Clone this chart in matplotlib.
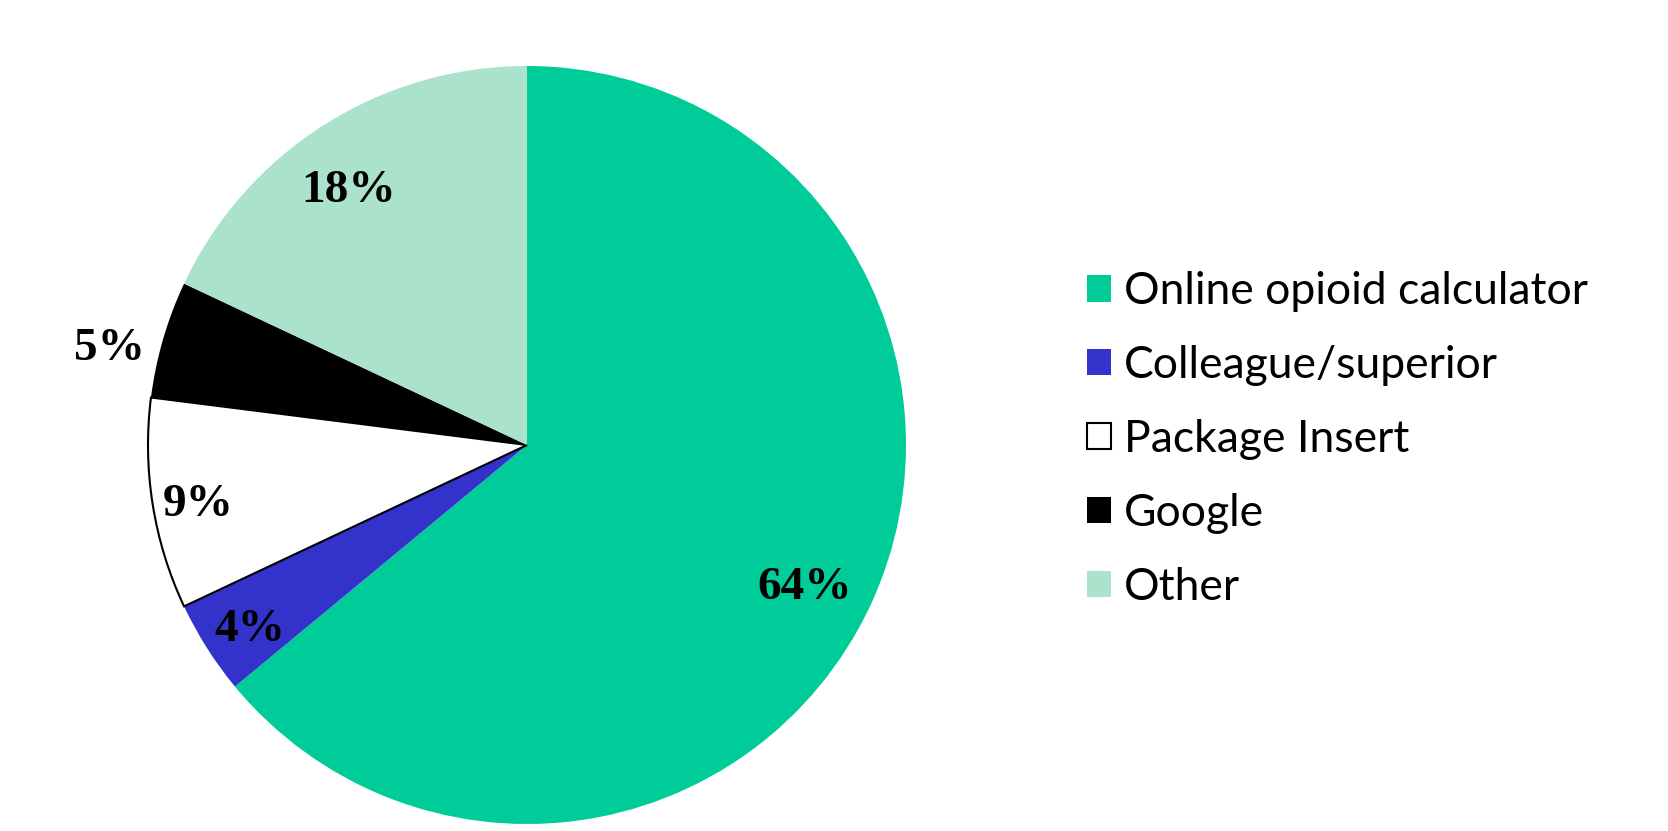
import matplotlib.pyplot as plt
import numpy as np

# data
sources = ["Online opioid calculator", "Colleague/superior", "Package Insert", "Google", "Other"]
shares = [64, 4, 9, 5, 18]
colors = ["#00CC99", "#3333CC", "#FFFFFF", "#000000", "#AAE2CB"]

# where each percent label sits: distance in radii, and a nudge off the slice middle (degrees)
label_r = [0.818, 0.871, 0.880, 1.133, 0.831]
label_dang = [-1.2, 0.6, 0.5, 2.5, 2.1]

fig = plt.figure(figsize=(16.68, 8.31), dpi=100)
ax = fig.add_axes([148 / 1668, 7 / 831, 758 / 1668, 758 / 831])

wedges, _ = ax.pie(shares, colors=colors, startangle=90, counterclock=False,
                   radius=1, wedgeprops=dict(linewidth=0))
# the white slice needs an outline
wedges[2].set_edgecolor("black")
wedges[2].set_linewidth(1.5)

for w, val, r, da in zip(wedges, shares, label_r, label_dang):
    ang = np.deg2rad((w.theta1 + w.theta2) / 2 + da)
    ax.annotate(f"{val}%", (r * np.cos(ang), r * np.sin(ang)), xytext=(0, -3.8),
                textcoords="offset points", ha="center", va="center", annotation_clip=False,
                fontsize=34, fontweight="bold", family="Liberation Serif")

ax.set_xlim(-1, 1)
ax.set_ylim(-1, 1)

leg = fig.legend(wedges, sources, loc="upper left", bbox_to_anchor=(1087 / 1668, 1 - 271 / 831),
                 frameon=False, prop=dict(family="Lato", size=32),
                 handlelength=0.54, handleheight=0.54, handletextpad=0.3, labelspacing=0.74,
                 borderpad=0, borderaxespad=0)
for h in leg.legend_handles:
    h.set_linewidth(1.5 if h.get_facecolor()[0] == 1 else 0)
    h.set_edgecolor("black")

fig.savefig("out.png", dpi=100)
